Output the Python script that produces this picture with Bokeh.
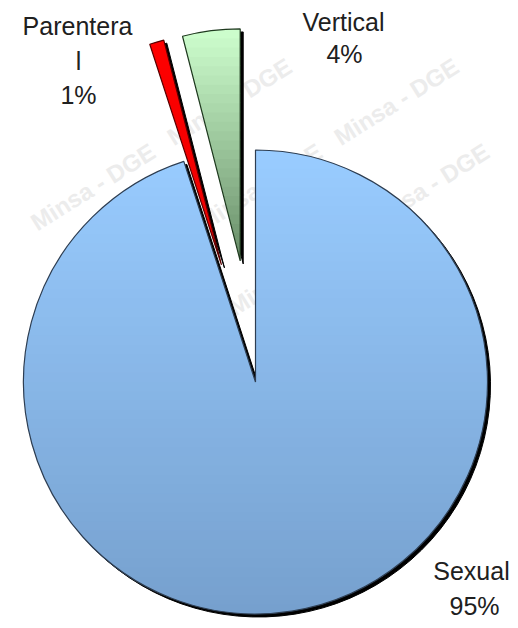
import math
import numpy as np
from bokeh.plotting import figure
from bokeh.models import Range1d, ColumnDataSource
from bokeh.core.properties import value
from bokeh.embed import file_html
from bokeh.resources import INLINE

# ---------------- data ----------------
categories = ["Vertical", "Parenteral", "Sexual"]      # counter-clockwise from 12 o'clock
percents = [4, 1, 95]
label_lines = [["Vertical"], ["Parentera", "l"], ["Sexual"]]
exploded = [True, True, False]
watermark_text = "Minsa - DGE"

# ---------------- styles / layout ----------------
W, H = 518, 628
CX, CY = 255.0, -381.5          # pie centre (x right, y up; 1 unit = 1 px)
R = 232.0
EXPLODE = 122.0
SHADOW_DX, SHADOW_DY = 3.0, -3.0
grad_top = {"Sexual": (153, 204, 255), "Vertical": (206, 255, 206), "Parenteral": (255, 0, 0)}
grad_bot = {"Sexual": (118, 160, 206), "Vertical": (104, 140, 104), "Parenteral": (235, 0, 0)}
outline = {"Sexual": "#2E3E52", "Vertical": "#1F3A1F", "Parenteral": "#5A0000"}
label_pos = {"Vertical": [(343, -21), (344, -53)],
             "Parenteral": [(77, -25), (78, -60), (78, -94)],
             "Sexual": [(471, -570), (474, -605)]}
FONT = value("Liberation Sans")

p = figure(width=W, height=H, x_range=Range1d(0, W), y_range=Range1d(-H, 0),
           output_backend="svg", toolbar_location=None, min_border=0,
           background_fill_color="white", border_fill_color="white")
p.axis.visible = False
p.grid.visible = False
p.outline_line_color = None

# ---------------- watermark ----------------
theta = math.radians(32)
L = 161.0
ax_, bx_, by_ = 167.0, L * math.cos(theta), -L * math.sin(theta)
hx = 70.5 * math.cos(theta) + 12 * math.sin(theta)
hy = 70.5 * math.sin(theta) + 12 * math.cos(theta)
wx, wy = [], []
for i in range(-6, 10):
    for k in range(-8, 8):
        x = 62 + k * ax_ + i * bx_
        y = 101 + i * by_
        if hx + 1 < x < W - hx - 1 and hy + 1 < y < H - hy - 1:
            wx.append(x)
            wy.append(-y)
p.text(x=wx, y=wy, text=[watermark_text] * len(wx), angle=theta,
       text_font=FONT, text_font_style="bold", text_font_size="24px",
       text_color="#ECECEC", text_align="center", text_baseline="middle")

# ---------------- slice geometry ----------------
starts, ends, cxs, cys = [], [], [], []
acc = 90.0
for pct, ex in zip(percents, exploded):
    a1 = acc
    a2 = acc + pct * 3.6
    mid = math.radians((a1 + a2) / 2)
    off = EXPLODE if ex else 0.0
    starts.append(a1)
    ends.append(a2)
    cxs.append(CX + off * math.cos(mid))
    cys.append(CY + off * math.sin(mid))
    acc = a2

src = ColumnDataSource(dict(x=cxs, y=cys, sx=[c + SHADOW_DX for c in cxs],
                            sy=[c + SHADOW_DY for c in cys],
                            start=[math.radians(a) for a in starts],
                            end=[math.radians(a) for a in ends],
                            cat=categories,
                            line=[outline[c] for c in categories]))

# shadows
p.wedge(x="sx", y="sy", radius=R, start_angle="start", end_angle="end",
        direction="anticlock", source=src, fill_color="black", line_color="black",
        line_width=1)


def sector_poly(cx, cy, r, a1, a2, n=240):
    t = np.radians(np.linspace(a1, a2, n))
    return [(cx, cy)] + [(cx + r * math.cos(a), cy + r * math.sin(a)) for a in t]


def clip(poly, y0, keep_above):
    out = []
    n = len(poly)
    for i in range(n):
        P, Q = poly[i], poly[(i + 1) % n]
        inP = P[1] >= y0 if keep_above else P[1] <= y0
        inQ = Q[1] >= y0 if keep_above else Q[1] <= y0
        if inP:
            out.append(P)
        if inP != inQ:
            t = (y0 - P[1]) / (Q[1] - P[1])
            out.append((P[0] + t * (Q[0] - P[0]), y0))
    return out


# gradient fills (horizontal bands of each slice, slightly overlapping)
bx, by, bc = [], [], []
for cat, a1, a2, cx, cy in zip(categories, starts, ends, cxs, cys):
    poly = sector_poly(cx, cy, R, a1, a2)
    ys = [q[1] for q in poly]
    ytop, ybot = max(ys), min(ys)
    nb = 50 if cat == "Sexual" else 25
    edges = np.linspace(ybot, ytop, nb + 1)
    c0, c1 = grad_top[cat], grad_bot[cat]
    for j in range(nb):
        lo, hi = edges[j], edges[j + 1]
        hi_ext = hi + 1.2 if j < nb - 1 else hi + 1.0
        piece = clip(clip(poly, lo - 0.1, True), hi_ext, False)
        if len(piece) < 3:
            continue
        f = 1 - ((lo + hi) / 2 - ybot) / (ytop - ybot)
        col = tuple(int(round(c0[m] + (c1[m] - c0[m]) * f)) for m in range(3))
        hexc = "#%02x%02x%02x" % col
        bx.append([q[0] for q in piece])
        by.append([q[1] for q in piece])
        bc.append(hexc)
p.patches(xs=bx, ys=by, fill_color=bc, line_color=None)

# outlines
p.wedge(x="x", y="y", radius=R, start_angle="start", end_angle="end",
        direction="anticlock", source=src, fill_color=None, line_color="line",
        line_width=1.2)

# ---------------- labels ----------------
tx, ty, tt = [], [], []
for cat, pct, lines in zip(categories, percents, label_lines):
    texts = lines + [f"{pct}%"]
    for t, (x, y) in zip(texts, label_pos[cat]):
        tx.append(x)
        ty.append(y)
        tt.append(t)
p.text(x=tx, y=ty, text=tt, text_font=FONT, text_font_size="25px",
       text_color="#202020", text_align="center", text_baseline="middle")

open("out.html", "w").write(file_html(p, INLINE))
